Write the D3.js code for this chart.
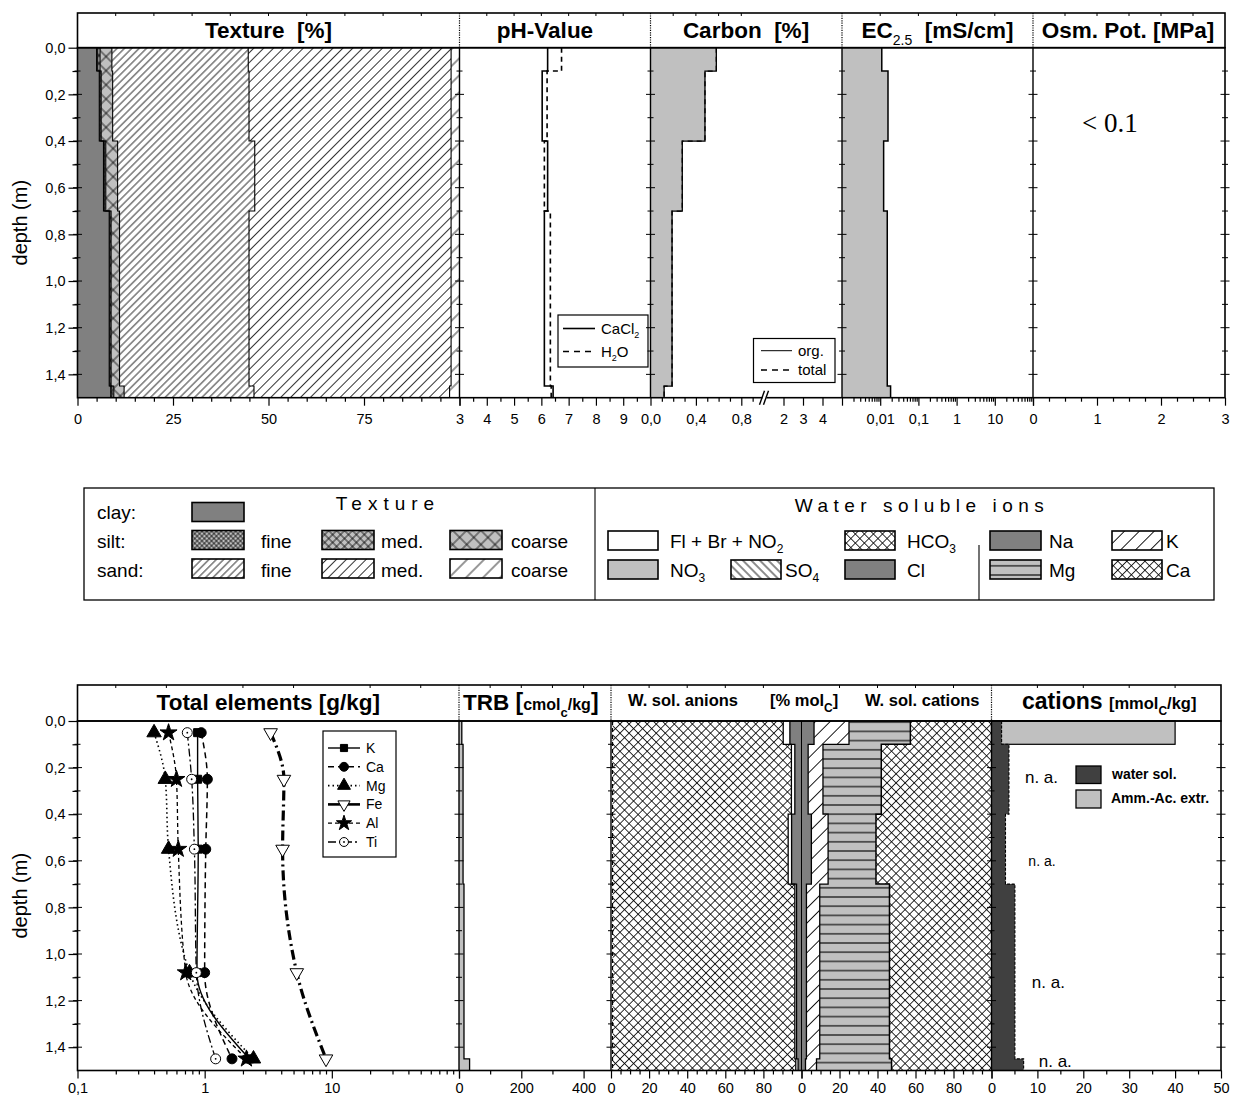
<!DOCTYPE html>
<html>
<head>
<meta charset="utf-8">
<script src="https://cdn.jsdelivr.net/npm/d3@7"></script>
<style>
  body { margin: 0; background: #fff; }
  svg { display: block; font-family: "Liberation Sans", Arial, sans-serif; }
</style>
</head>
<body>
<svg id="chart" width="1234" height="1097"></svg>
<script>
// ---------------- soil profile data ----------------
const horizonTop    = [0.00, 0.10, 0.40, 0.70, 1.45];
const horizonBottom = [0.10, 0.40, 0.70, 1.45, 1.50];

// texture fractions [%] per horizon
const clay       = [5.0, 5.7, 6.8, 8.3, 8.7];
const siltFine   = [0.3, 0.2, 0.2, 0.2, 0.3];
const siltMedium = [0.6, 0.3, 0.4, 0.3, 0.5];
const siltCoarse = [3.1, 3.0, 3.1, 2.2, 2.7];
const sandFine   = [35.7, 35.7, 35.9, 33.9, 34.0];
const sandMedium = [53.1, 52.9, 51.4, 52.9, 51.2];
const sandCoarse = [2.2, 2.2, 2.2, 2.2, 2.6];

// pH
const pHCaCl2 = [6.23, 6.03, 6.23, 6.11, 6.43];
const pHH2O   = [6.74, 6.21, 6.11, 6.33, 6.36];

// carbon [%]
const carbonOrg   = [0.58, 0.48, 0.28, 0.19, 0.12];
const carbonTotal = [0.58, 0.48, 0.28, 0.19, 0.12];

// electrical conductivity EC2.5 [mS/cm]
const ec25 = [0.011, 0.016, 0.0123, 0.0153, 0.0187];
const osmoticNote = "< 0.1";

// total elements [g/kg] at sampling depths
const sampleDepth = [0.05, 0.25, 0.55, 1.08, 1.45];
const totalK  = [0.88, 0.88, 0.89, 0.87, 2.25];
const totalCa = [0.94, 1.05, 1.02, 1.00, 1.64];
const totalMg = [0.40, 0.49, 0.52, 0.76, 2.42];
const totalFe = [3.3, 4.2, 4.1, 5.3, 9.0];
const totalAl = [0.52, 0.60, 0.62, 0.71, 2.13];
const totalTi = [0.73, 0.79, 0.83, 0.86, 1.22];

// total reserve of bases [cmolc/kg]
const trb = [9, 13, 13, 16, 34];

// water soluble anions [% molc], stacked left to right
const anionSO4     = [0.8, 0.8, 0.8, 0.8, 0.8];
const anionHCO3    = [89.6, 93.9, 92.2, 95.7, 96.2];
const anionFlBrNO2 = [3.5, 1.8, 1.8, 0.9, 1.2];
const anionCl      = [6.1, 3.5, 5.2, 2.6, 1.8];

// water soluble cations [% molc], stacked from the centre outwards
const cationNa = [6.6, 3.5, 5.2, 2.6, 2.1];
const cationK  = [18.4, 7.8, 8.8, 7.0, 5.8];
const cationMg = [32.3, 30.7, 25.2, 36.7, 39.5];
const cationCa = [42.7, 58.0, 60.8, 53.7, 52.6];

// cations [mmolc/kg]
const cationsWaterSol = [2.2, 3.8, 3.05, 5.1, 7.0];
const cationsAmmAc    = [40, null, null, null, null];
const naDepth = [0.24, 0.60, 1.12, 1.46];
const naValue = [10.9, 11.0, 12.4, 13.9];

// tick labels
const depthTicks   = [0, 0.2, 0.4, 0.6, 0.8, 1.0, 1.2, 1.4];
const textureTicks = [0, 25, 50, 75];
const pHTicks      = [3, 4, 5, 6, 7, 8, 9];
const carbonTicks  = [0, 0.4, 0.8, 2, 3, 4];
const ecTicks      = [0.01, 0.1, 1, 10];
const osmTicks     = [0, 1, 2, 3];
const totalTicks   = [0.1, 1, 10];
const trbTicks     = [0, 200, 400];
const anionTicks   = [0, 20, 40, 60, 80];
const cationTicks  = [0, 20, 40, 60, 80];
const mmolTicks    = [0, 10, 20, 30, 40, 50];

// ---------------- setup ----------------
const svg = d3.select("#chart");
const defs = svg.append("defs");
const INK = "#000";

const comma = p => v => d3.format(`.${p}f`)(v).replace(".", ",");
const plainNum = v => String(v).replace(".", ",");

// layout
const L = 77.5;
const topHead = [13, 47.7], topBody = [47.7, 397.7];
const botHead = [685, 721], botBody = [721, 1070.5];

const topY = d3.scaleLinear([0, 1.5], topBody);
const botY = d3.scaleLinear([0, 1.5], botBody);

const xTex  = d3.scaleLinear([0, 100], [L, 459.5]);
const xPH   = d3.scaleLinear([3, 10], [459.5, 650.5]);
const xC    = d3.scaleLinear([0, 1, 5], [650.5, 764, 842]);
const xEC   = d3.scaleLog([0.001, 100], [842, 1033]);
const xOsm  = d3.scaleLinear([0, 3], [1033, 1225]);
const xTot  = d3.scaleLog([0.1, 100], [L, 459]);
const xTRB  = d3.scaleLinear([0, 488], [459, 611]);
const xAn   = d3.scaleLinear([0, 100], [611, 801.5]);
const xCat  = d3.scaleLinear([0, 100], [801.5, 991.5]);
const xMmol = d3.scaleLinear([0, 50], [991.5, 1221]);

// ---------------- fill patterns ----------------
function pattern(id, { size, angle = 0, bg = "#fff", kind = "line", sw = 0.8 }) {
  const p = defs.append("pattern").attr("id", id)
    .attr("patternUnits", "userSpaceOnUse")
    .attr("width", size).attr("height", size);
  if (angle) p.attr("patternTransform", `rotate(${angle})`);
  p.append("rect").attr("width", size).attr("height", size).attr("fill", bg);
  if (kind === "line" || kind === "cross")
    p.append("line").attr("x1", size / 2).attr("x2", size / 2).attr("y1", 0).attr("y2", size)
      .attr("stroke", INK).attr("stroke-width", sw);
  if (kind === "cross" || kind === "hline")
    p.append("line").attr("y1", size / 2).attr("y2", size / 2).attr("x1", 0).attr("x2", size)
      .attr("stroke", INK).attr("stroke-width", sw);
  return `url(#${id})`;
}
const GREY = "#c0c0c0", DARK = "#808080";
const fill = {
  clay: DARK,
  siltF: pattern("siltF", { size: 3.4, angle: 45, bg: GREY, kind: "cross", sw: 0.7 }),
  siltM: pattern("siltM", { size: 5.6, angle: 45, bg: GREY, kind: "cross", sw: 0.8 }),
  siltC: pattern("siltC", { size: 10, angle: 45, bg: GREY, kind: "cross", sw: 0.8 }),
  sandF: pattern("sandF", { size: 5.2, angle: 45, kind: "line", sw: 0.8 }),
  sandM: pattern("sandM", { size: 7, angle: 45, kind: "line", sw: 0.8 }),
  sandC: pattern("sandC", { size: 12, angle: 45, kind: "line", sw: 0.8 }),
  hco3: pattern("hco3", { size: 6.4, angle: 45, kind: "cross", sw: 0.8 }),
  ca: pattern("ca", { size: 6.4, angle: 45, kind: "cross", sw: 0.8 }),
  k: pattern("kpat", { size: 10.5, angle: 45, kind: "line", sw: 0.9 }),
  so4: pattern("so4", { size: 6, angle: -45, kind: "line", sw: 0.9 }),
  mg: pattern("mg", { size: 9.2, bg: GREY, kind: "hline", sw: 1.1 }),
  no3: GREY, flbr: "#fff", na: DARK, cl: DARK
};

// ---------------- helpers ----------------
function stepPoints(lo, hi) {
  return horizonTop.flatMap((t, i) => [
    { y: t, x0: lo[i], x1: hi[i] },
    { y: horizonBottom[i], x0: lo[i], x1: hi[i] }
  ]);
}
function stepFill(g, xs, ys, lo, hi, f) {
  g.append("path")
    .attr("d", d3.area().y(d => ys(d.y)).x0(d => xs(d.x0)).x1(d => xs(d.x1))(stepPoints(lo, hi)))
    .attr("fill", f);
}
function stepLine(g, xs, ys, vals, w = 1.2, dash = null) {
  g.append("path")
    .attr("d", d3.line().x(d => xs(d.x1)).y(d => ys(d.y))(stepPoints(vals, vals)))
    .attr("fill", "none").attr("stroke", INK).attr("stroke-width", w)
    .attr("stroke-dasharray", dash);
}
function cumulate(series) {
  let acc = series[0].map(() => 0);
  return series.map(s => {
    const lo = acc, hi = acc.map((a, i) => a + s[i]);
    acc = hi;
    return { lo, hi };
  });
}
function styleAxis(g, fs = 14.5) {
  g.attr("font-family", null).attr("font-size", null).attr("fill", null);
  g.select(".domain").remove();
  g.selectAll("text").attr("font-size", fs).attr("fill", INK);
  g.selectAll("line").attr("stroke", INK).attr("stroke-width", 1.2);
}
function xAxis(y, scale, majors, fmt, minors, hidden = [], pad = 8) {
  const g = svg.append("g").attr("transform", `translate(0,${y})`);
  g.call(d3.axisBottom(scale).tickValues(majors.concat(hidden))
    .tickFormat(v => hidden.includes(v) ? "" : fmt(v)).tickSize(8).tickPadding(pad));
  styleAxis(g);
  if (minors && minors.length) {
    const gm = svg.append("g").attr("transform", `translate(0,${y})`);
    gm.call(d3.axisBottom(scale).tickValues(minors).tickFormat("").tickSize(4));
    styleAxis(gm);
  }
  return g;
}
function logMinors(lo, hi) {
  const out = [];
  for (let e = lo; e < hi; e++) for (let m = 2; m <= 9; m++) out.push(m * Math.pow(10, e));
  return out;
}
function depthAxis(ys) {
  const g = svg.append("g").attr("transform", `translate(${L},0)`);
  g.call(d3.axisLeft(ys).tickValues(depthTicks).tickFormat(comma(1)).tickSize(9).tickPadding(3));
  styleAxis(g);
  const gm = svg.append("g").attr("transform", `translate(${L},0)`);
  gm.call(d3.axisLeft(ys).tickValues(d3.range(0.1, 1.4, 0.2)).tickFormat("").tickSize(5));
  styleAxis(gm);
}
function edgeTicks(xs, ys) {
  const g = svg.append("g").attr("stroke", INK).attr("stroke-width", 1);
  const vals = d3.range(0.1, 1.5, 0.1);
  xs.forEach(x => vals.forEach((v, i) => {
    const len = (i % 2 === 1) ? 4.5 : 3;
    g.append("line").attr("x1", x - len).attr("x2", x + len).attr("y1", ys(v)).attr("y2", ys(v));
  }));
}
function headerTicks(y, positions) {
  const g = svg.append("g").attr("stroke", INK).attr("stroke-width", 1);
  positions.forEach(x => g.append("line").attr("x1", x).attr("x2", x).attr("y1", y).attr("y2", y + 3));
}
function richText(g, x, y, parts, anchor = "start") {
  const t = g.append("text").attr("x", x).attr("y", y).attr("text-anchor", anchor).attr("fill", INK);
  parts.forEach(p => {
    const ts = t.append("tspan").text(p.t);
    if (p.size) ts.attr("font-size", p.size);
    if (p.weight) ts.attr("font-weight", p.weight);
    if (p.dy) ts.attr("dy", p.dy);
  });
  return t;
}
function frame(head, body, bounds, right) {
  const g = svg.append("g").attr("fill", "none").attr("stroke", INK);
  g.append("rect").attr("x", L).attr("y", head[0]).attr("width", right - L).attr("height", head[1] - head[0]).attr("stroke-width", 1.6);
  g.append("rect").attr("x", L).attr("y", body[0]).attr("width", right - L).attr("height", body[1] - body[0]).attr("stroke-width", 1.6);
  bounds.forEach(x => {
    g.append("line").attr("x1", x).attr("x2", x).attr("y1", body[0]).attr("y2", body[1]).attr("stroke-width", 1.4);
    g.append("line").attr("x1", x).attr("x2", x).attr("y1", head[0]).attr("y2", head[1])
      .attr("stroke-width", 1.2).attr("stroke-dasharray", "1.2,1.2");
  });
}

// ================= TOP PROFILE =================
const gTop = svg.append("g");

// texture
const texFills = [fill.clay, fill.siltF, fill.siltM, fill.siltC, fill.sandF, fill.sandM, fill.sandC];
const texStack = cumulate([clay, siltFine, siltMedium, siltCoarse, sandFine, sandMedium, sandCoarse]);
texStack.forEach((s, i) => stepFill(gTop, xTex, topY, s.lo, s.hi, texFills[i]));
texStack.slice(0, 6).forEach(s => stepLine(gTop, xTex, topY, s.hi, 1.1));

// pH
stepLine(gTop, xPH, topY, pHCaCl2, 1.6);
stepLine(gTop, xPH, topY, pHH2O, 1.6, "5,4");

// carbon
stepFill(gTop, xC, topY, carbonOrg.map(() => 0), carbonOrg, GREY);
stepLine(gTop, xC, topY, carbonOrg, 1.3);
stepLine(gTop, xC, topY, carbonTotal, 1.3, "5,4");

// EC
stepFill(gTop, xEC, topY, ec25.map(() => xEC.domain()[0]), ec25, GREY);
stepLine(gTop, xEC, topY, ec25, 1.5);

// osmotic potential note
gTop.append("text").attr("x", xOsm(1.2)).attr("y", topY(0.32)).attr("dy", "0.35em")
  .attr("text-anchor", "middle").attr("font-family", "'Liberation Serif', 'Times New Roman', serif")
  .attr("font-size", 27).text(osmoticNote);

// pH legend
{
  const g = svg.append("g");
  g.append("rect").attr("x", 558).attr("y", 315).attr("width", 90).attr("height", 52)
    .attr("fill", "#fff").attr("stroke", INK).attr("stroke-width", 1.2);
  g.append("line").attr("x1", 563).attr("x2", 595).attr("y1", 328.5).attr("y2", 328.5).attr("stroke", INK).attr("stroke-width", 1.6);
  g.append("line").attr("x1", 563).attr("x2", 595).attr("y1", 351.5).attr("y2", 351.5).attr("stroke", INK).attr("stroke-width", 1.6).attr("stroke-dasharray", "6,5");
  g.attr("font-size", 15);
  richText(g, 601, 334, [{ t: "CaCl" }, { t: "2", size: 9, dy: 4 }]);
  richText(g, 601, 357, [{ t: "H" }, { t: "2", size: 9, dy: 4 }, { t: "O", dy: -4 }]);
}
// carbon legend
{
  const g = svg.append("g");
  g.append("rect").attr("x", 753.5).attr("y", 338.5).attr("width", 81.5).attr("height", 44)
    .attr("fill", "#fff").attr("stroke", INK).attr("stroke-width", 1.2);
  g.append("line").attr("x1", 761).attr("x2", 792).attr("y1", 350.7).attr("y2", 350.7).attr("stroke", INK).attr("stroke-width", 1);
  g.append("line").attr("x1", 761).attr("x2", 792).attr("y1", 370).attr("y2", 370).attr("stroke", INK).attr("stroke-width", 1.6).attr("stroke-dasharray", "6,5");
  g.attr("font-size", 15);
  g.append("text").attr("x", 798).attr("y", 356).text("org.");
  g.append("text").attr("x", 798).attr("y", 375).text("total");
}

frame(topHead, topBody, [459.5, 650.5, 842, 1033], 1225);
edgeTicks([L, 459.5, 650.5, 842, 1033, 1225], topY);
headerTicks(topHead[0], d3.range(10, 100, 10).map(xTex)
  .concat(d3.range(4, 10).map(xPH))
  .concat([0.2, 0.4, 0.6, 0.8].map(xC))
  .concat([0.01, 0.1, 1, 10].map(xEC))
  .concat([0.5, 1, 1.5, 2, 2.5].map(xOsm)));

// header titles
{
  const g = svg.append("g").attr("font-weight", "bold").attr("font-size", 22.5);
  const ty = 37.5;
  g.append("text").attr("x", (xTex.range()[0] + xTex.range()[1]) / 2).attr("y", ty).attr("text-anchor", "middle").attr("xml:space", "preserve").text("Texture  [%]");
  g.append("text").attr("x", 545).attr("y", ty).attr("text-anchor", "middle").text("pH-Value");
  g.append("text").attr("x", 746).attr("y", ty).attr("text-anchor", "middle").attr("xml:space", "preserve").text("Carbon  [%]");
  richText(g, 937.5, ty, [{ t: "EC" }, { t: "2.5", size: 14, weight: "normal", dy: 7 }, { t: "\u00a0\u00a0[mS/cm]", dy: -7 }], "middle");
  g.append("text").attr("x", 1128).attr("y", ty).attr("text-anchor", "middle").text("Osm. Pot. [MPa]");
}

// axes
depthAxis(topY);
xAxis(topBody[1], xTex, textureTicks, v => String(v), d3.range(5, 100, 5).filter(v => v % 25), [100]);
xAxis(topBody[1], xPH, pHTicks, v => String(v), d3.range(3.5, 10, 1));
xAxis(topBody[1], xC, carbonTicks, v => v < 1 ? comma(1)(v) : String(v), [0.1, 0.2, 0.3, 0.5, 0.6, 0.7, 0.9]);
xAxis(topBody[1], xEC, ecTicks, plainNum, logMinors(-3, 2), [0.001, 100]);
xAxis(topBody[1], xOsm, osmTicks, v => String(v), [0.25, 0.5, 0.75, 1.25, 1.5, 1.75, 2.25, 2.5, 2.75]);

// axis break on carbon scale
{
  const g = svg.append("g");
  const bx = xC(1);
  g.append("rect").attr("x", bx - 1.5).attr("y", topBody[1] - 1.5).attr("width", 4).attr("height", 3).attr("fill", "#fff");
  [bx - 2, bx + 2].forEach(x => g.append("line").attr("x1", x - 2.5).attr("x2", x + 2.5)
    .attr("y1", topBody[1] + 7).attr("y2", topBody[1] - 7).attr("stroke", INK).attr("stroke-width", 1.4));
}

svg.append("text").attr("transform", `translate(27,${(topBody[0] + topBody[1]) / 2}) rotate(-90)`)
  .attr("text-anchor", "middle").attr("font-size", 20).text("depth (m)");

// ================= LEGEND BOX =================
{
  const g = svg.append("g");
  g.append("rect").attr("x", 84).attr("y", 488).attr("width", 1130).attr("height", 112)
    .attr("fill", "none").attr("stroke", INK).attr("stroke-width", 1.3);
  g.append("line").attr("x1", 595).attr("x2", 595).attr("y1", 488).attr("y2", 600).attr("stroke", INK).attr("stroke-width", 1.1);
  g.append("line").attr("x1", 979).attr("x2", 979).attr("y1", 545).attr("y2", 600).attr("stroke", INK).attr("stroke-width", 1.1);
  g.attr("font-size", 19);

  const swatch = (x, y, f, w = 52, h = 19) => g.append("rect").attr("x", x).attr("y", y).attr("width", w).attr("height", h)
    .attr("fill", f).attr("stroke", INK).attr("stroke-width", 1.6);

  g.append("text").attr("x", 388).attr("y", 510).attr("text-anchor", "middle").attr("font-size", 19)
    .attr("letter-spacing", 6).text("Texture");
  g.append("text").attr("x", 97).attr("y", 519).text("clay:");
  g.append("text").attr("x", 97).attr("y", 548).text("silt:");
  g.append("text").attr("x", 97).attr("y", 577).text("sand:");
  swatch(192, 502.5, fill.clay);
  const cols = [{ x: 192, t: "fine", tx: 261 }, { x: 322, t: "med.", tx: 381 }, { x: 450, t: "coarse", tx: 511 }];
  [fill.siltF, fill.siltM, fill.siltC].forEach((f, i) => { swatch(cols[i].x, 530.5, f); g.append("text").attr("x", cols[i].tx).attr("y", 548).text(cols[i].t); });
  [fill.sandF, fill.sandM, fill.sandC].forEach((f, i) => { swatch(cols[i].x, 559, f); g.append("text").attr("x", cols[i].tx).attr("y", 577).text(cols[i].t); });

  g.append("text").attr("x", 922).attr("y", 512).attr("text-anchor", "middle").attr("letter-spacing", 5.5).text("Water soluble ions");
  swatch(608, 531, fill.flbr, 50); richText(g, 670, 548, [{ t: "Fl + Br + NO" }, { t: "2", size: 12, dy: 5 }]);
  swatch(845, 531, fill.hco3, 50); richText(g, 907, 548, [{ t: "HCO" }, { t: "3", size: 12, dy: 5 }]);
  swatch(608, 560, fill.no3, 50); richText(g, 670, 577, [{ t: "NO" }, { t: "3", size: 12, dy: 5 }]);
  swatch(731, 560, fill.so4, 50); richText(g, 785, 577, [{ t: "SO" }, { t: "4", size: 12, dy: 5 }]);
  swatch(845, 560, fill.cl, 50); g.append("text").attr("x", 907).attr("y", 577).text("Cl");
  swatch(990, 531, fill.na, 51); g.append("text").attr("x", 1049).attr("y", 548).text("Na");
  swatch(990, 560, fill.mg, 51); g.append("text").attr("x", 1049).attr("y", 577).text("Mg");
  swatch(1112, 531, fill.k, 50); g.append("text").attr("x", 1166).attr("y", 548).text("K");
  swatch(1112, 560, fill.ca, 50); g.append("text").attr("x", 1166).attr("y", 577).text("Ca");
}

// ================= BOTTOM PROFILE =================
const gBot = svg.append("g");

// total elements
const elementSeries = [
  { name: "K",  values: totalK,  dash: null,       width: 1.4, symbol: d3.symbolSquare,   size: 64 },
  { name: "Ca", values: totalCa, dash: "6,4",      width: 1.5, symbol: d3.symbolCircle,   size: 78 },
  { name: "Mg", values: totalMg, dash: "1.5,3",    width: 1.6, symbol: d3.symbolTriangle, size: 90 },
  { name: "Fe", values: totalFe, dash: "10,4,2,4", width: 3.2, symbol: d3.symbolTriangle, size: 80, open: true, flip: true },
  { name: "Al", values: totalAl, dash: "4,3",      width: 1.3, symbol: d3.symbolStar,     size: 90 },
  { name: "Ti", values: totalTi, dash: "8,3,2,3",  width: 1.3, symbol: d3.symbolCircle,   size: 78, open: true, dot: true }
];
const elemLine = d3.line().curve(d3.curveMonotoneY);
function marker(g, s, x, y, scale = 1) {
  g.append("path").attr("d", d3.symbol(s.symbol, s.size * scale)())
    .attr("transform", `translate(${x},${y})${s.flip ? " rotate(180)" : ""}`)
    .attr("fill", s.open ? "#fff" : INK).attr("stroke", INK).attr("stroke-width", 1);
  if (s.dot) g.append("circle").attr("cx", x).attr("cy", y).attr("r", 0.9).attr("fill", INK);
}
elementSeries.forEach(s => {
  gBot.append("path").attr("d", elemLine(s.values.map((v, i) => [xTot(v), botY(sampleDepth[i])])))
    .attr("fill", "none").attr("stroke", INK).attr("stroke-width", s.width).attr("stroke-dasharray", s.dash);
});
elementSeries.forEach(s => s.values.forEach((v, i) => marker(gBot, s, xTot(v), botY(sampleDepth[i]))));

// total elements legend
{
  const g = svg.append("g").attr("font-size", 14);
  g.append("rect").attr("x", 323).attr("y", 731).attr("width", 73).attr("height", 126)
    .attr("fill", "#fff").attr("stroke", INK).attr("stroke-width", 1.2);
  elementSeries.forEach((s, i) => {
    const y = 748 + i * 18.8;
    g.append("line").attr("x1", 328).attr("x2", 360).attr("y1", y).attr("y2", y)
      .attr("stroke", INK).attr("stroke-width", Math.min(s.width, 2.6)).attr("stroke-dasharray", s.dash ? (s.name === "Fe" ? null : s.dash) : null);
    marker(g, s, 344, y, 0.8);
    g.append("text").attr("x", 366).attr("y", y + 5).text(s.name);
  });
}

// TRB
stepFill(gBot, xTRB, botY, trb.map(() => 0), trb, GREY);
stepLine(gBot, xTRB, botY, trb, 1.3);

// water soluble anions
const anionStack = cumulate([anionSO4, anionHCO3, anionFlBrNO2, anionCl]);
[fill.flbr, fill.hco3, fill.flbr, fill.cl].forEach((f, i) => stepFill(gBot, xAn, botY, anionStack[i].lo, anionStack[i].hi, f));
stepLine(gBot, xAn, botY, anionStack[0].hi, 1.2, "4,3");
stepLine(gBot, xAn, botY, anionStack[1].hi, 1.3);
stepLine(gBot, xAn, botY, anionStack[2].hi, 1.3);

// water soluble cations
const cationStack = cumulate([cationNa, cationK, cationMg, cationCa]);
[fill.na, fill.k, fill.mg, fill.ca].forEach((f, i) => stepFill(gBot, xCat, botY, cationStack[i].lo, cationStack[i].hi, f));
stepLine(gBot, xCat, botY, cationStack[0].hi, 1.3);
stepLine(gBot, xCat, botY, cationStack[1].hi, 1.3);
stepLine(gBot, xCat, botY, cationStack[2].hi, 1.5);

// cations mmolc/kg
cationsAmmAc.forEach((v, i) => {
  if (v == null) return;
  gBot.append("rect").attr("x", xMmol(0)).attr("y", botY(horizonTop[i]))
    .attr("width", xMmol(v) - xMmol(0)).attr("height", botY(horizonBottom[i]) - botY(horizonTop[i]))
    .attr("fill", GREY).attr("stroke", INK).attr("stroke-width", 1.2);
});
stepFill(gBot, xMmol, botY, cationsWaterSol.map(() => 0), cationsWaterSol, "#404040");
stepLine(gBot, xMmol, botY, cationsWaterSol, 1.1, "3,1.5");
naDepth.forEach((d, i) => {
  gBot.append("text").attr("x", xMmol(naValue[i])).attr("y", botY(d)).attr("dy", "0.35em")
    .attr("text-anchor", "middle").attr("font-size", i === 1 ? 14 : 17).text("n. a.");
});
{
  const g = svg.append("g").attr("font-size", 14).attr("font-weight", "bold");
  g.append("rect").attr("x", 1076).attr("y", 766).attr("width", 25).attr("height", 17.5).attr("fill", "#404040").attr("stroke", INK).attr("stroke-width", 1.3);
  g.append("rect").attr("x", 1076).attr("y", 790).attr("width", 25).attr("height", 18).attr("fill", GREY).attr("stroke", INK).attr("stroke-width", 1.3);
  g.append("text").attr("x", 1112).attr("y", 779).text("water sol.");
  g.append("text").attr("x", 1111).attr("y", 803).text("Amm.-Ac. extr.");
}

frame(botHead, botBody, [459, 611, 991.5], 1221);
svg.append("line").attr("x1", 801.5).attr("x2", 801.5).attr("y1", botBody[0]).attr("y2", botBody[1]).attr("stroke", INK).attr("stroke-width", 1);
edgeTicks([L, 459, 611, 991.5, 1221], botY);
headerTicks(botHead[0], [0.2, 0.5, 2, 5, 20, 50].map(xTot)
  .concat([100, 200, 300, 400].map(xTRB))
  .concat(d3.range(20, 100, 20).map(xAn))
  .concat(d3.range(20, 100, 20).map(xCat))
  .concat(d3.range(10, 50, 10).map(xMmol)));

// bottom header titles
{
  const g = svg.append("g").attr("font-weight", "bold");
  const ty = 710;
  g.append("text").attr("x", (xTot.range()[0] + xTot.range()[1]) / 2).attr("y", ty).attr("text-anchor", "middle")
    .attr("font-size", 22.5).text("Total elements [g/kg]");
  richText(g, 463, ty, [{ t: "TRB ", size: 22.5 }, { t: "[", size: 23 }, { t: "cmol", size: 16 },
    { t: "c", size: 13, dy: 7 }, { t: "/kg", size: 16, dy: -7 }, { t: "]", size: 23 }]);
  g.append("text").attr("x", 628).attr("y", 706).attr("font-size", 16.5).text("W. sol. anions");
  richText(g, 770, 706, [{ t: "[% mol", size: 16.5 }, { t: "C", size: 12, dy: 6 }, { t: "]", size: 16.5, dy: -6 }]);
  g.append("text").attr("x", 979.5).attr("y", 706).attr("text-anchor", "end").attr("font-size", 16.5).text("W. sol. cations");
  richText(g, 1022, 709, [{ t: "cations ", size: 23 }, { t: "[mmol", size: 16.5 }, { t: "C", size: 12, dy: 6 },
    { t: "/kg]", size: 16.5, dy: -6 }]);
}

// bottom axes (labels sit a little closer to the axis to stay inside the page)
const BP = 4;
depthAxis(botY);
xAxis(botBody[1], xTot, totalTicks, v => v < 1 ? comma(1)(v) : String(v), logMinors(-1, 2), [100], BP);
xAxis(botBody[1], xTRB, trbTicks, v => String(v), [100, 300], [], BP);
xAxis(botBody[1], xAn, anionTicks, v => String(v), d3.range(5, 100, 5).filter(v => v % 20), [100], BP);
xAxis(botBody[1], xCat, cationTicks, v => String(v), d3.range(5, 100, 5).filter(v => v % 20), [100], BP);
xAxis(botBody[1], xMmol, mmolTicks, v => String(v), d3.range(5, 50, 10), [], BP);

svg.append("text").attr("transform", `translate(27,${(botBody[0] + botBody[1]) / 2}) rotate(-90)`)
  .attr("text-anchor", "middle").attr("font-size", 20).text("depth (m)");
</script>
</body>
</html>
